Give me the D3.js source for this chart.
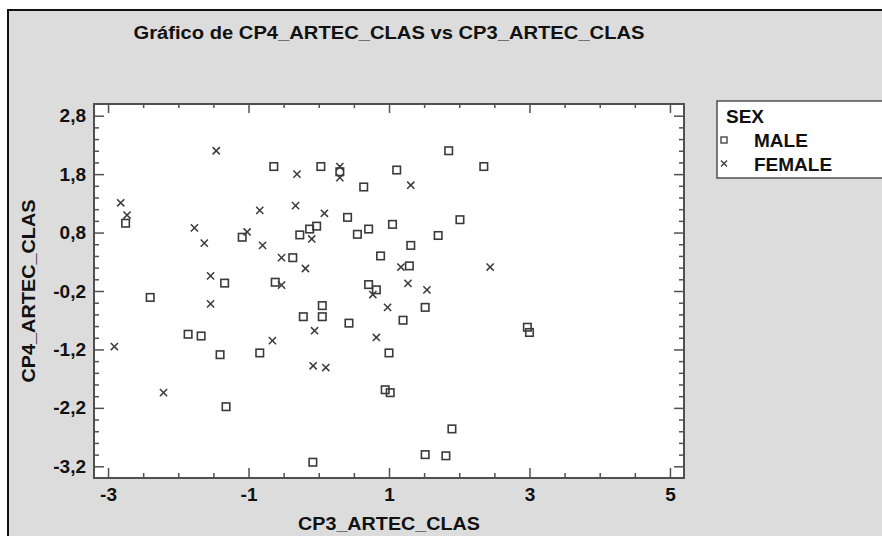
<!DOCTYPE html>
<html><head><meta charset="utf-8">
<script src="https://cdn.jsdelivr.net/npm/d3@7"></script>
<style>
html,body{margin:0;padding:0;background:#fff;overflow:hidden;}
svg{display:block;font-family:"Liberation Sans",Arial,sans-serif;}
</style></head>
<body><svg id="c" width="882" height="536"></svg>
<script>
// ---- data ----
const titleText = "Gráfico de CP4_ARTEC_CLAS vs CP3_ARTEC_CLAS";
const xLabel = "CP3_ARTEC_CLAS";
const yLabel = "CP4_ARTEC_CLAS";
const legendTitle = "SEX";
const groups = ["MALE", "FEMALE"];

const maleX = [-0.64, 0.03, 0.30, 0.64, 1.11, 1.85, 2.35, -2.75, 0.41, -1.09, -0.27, -0.13, -0.03, 0.55, 0.71, 1.05,
  0.88, -0.37, 2.01, 1.70, 1.31, 1.29, -1.34, -0.62, 0.71, 0.82, -2.40, 0.05, -0.22, 0.05, 0.43, 1.00,
  -1.86, -1.675, -1.405, -0.84, -1.32, 0.946, 1.017, -0.084, 1.515, 1.20, 2.97, 3.00, 1.896, 1.515, 1.81];
const maleY = [1.93, 1.93, 1.84, 1.58, 1.87, 2.20, 1.93, 0.96, 1.06, 0.72, 0.76, 0.86, 0.91, 0.77, 0.86, 0.94,
  0.40, 0.37, 1.02, 0.75, 0.58, 0.23, -0.065, -0.05, -0.09, -0.18, -0.31, -0.45, -0.64, -0.64, -0.75, -1.26,
  -0.94, -0.97, -1.29, -1.26, -2.18, -1.89, -1.94, -3.13, -0.48, -0.70, -0.82, -0.91, -2.56, -3.00, -3.02];

const femaleX = [-1.46, -0.31, 0.30, 0.30, -2.82, -2.73, -1.77, -1.63, -0.84, -0.33, 0.08, -1.02, -0.80, -0.10, -0.53,
  -0.19, -1.54, -0.53, 1.17, 2.44, 1.27, 1.54, 1.31, 0.77, -1.54, 0.98, -0.06, 0.82, -2.91, -0.66, -0.08, 0.10, -2.21];
const femaleY = [2.20, 1.80, 1.93, 1.74, 1.31, 1.10, 0.88, 0.62, 1.18, 1.26, 1.13, 0.81, 0.58, 0.69, 0.37,
  0.185, 0.06, -0.10, 0.21, 0.21, -0.07, -0.18, 1.61, -0.26, -0.42, -0.48, -0.88, -0.995, -1.15, -1.05, -1.48, -1.51, -1.94];

const xMajorTicks = [-3, -1, 1, 3, 5];
const xMinorTicks = [-2.5, -2, -1.5, -0.5, 0, 0.5, 1.5, 2, 2.5, 3.5, 4, 4.5];
const yMajorTicks = [2.8, 1.8, 0.8, -0.2, -1.2, -2.2, -3.2];
const yMinorTicks = [2.6, 2.4, 2.2, 2.0, 1.6, 1.4, 1.2, 1.0, 0.6, 0.4, 0.2, 0.0, -0.4, -0.6, -0.8, -1.0,
  -1.4, -1.6, -1.8, -2.0, -2.4, -2.6, -2.8, -3.0];

// ---- drawing ----
const svg = d3.select("#c");
const W = 882, H = 536;
const plot = {l: 94, t: 104, r: 684, b: 478};
const ink = "#3a3a3a", frameCol = "#505050";

svg.append("rect").attr("x", 0).attr("y", 0).attr("width", W).attr("height", H).attr("fill", "#fff");
svg.append("rect").attr("x", 8).attr("y", 10).attr("width", W - 8).attr("height", H - 10).attr("fill", "#dcdcdc");
svg.append("path").attr("d", `M8,${H}L8,10L${W},10`).attr("fill", "none").attr("stroke", "#111").attr("stroke-width", 2);

const x = d3.scaleLinear().domain([-3.2, 5.2]).range([plot.l, plot.r]);
const y = d3.scaleLinear().domain([-3.4, 3.0]).range([plot.b, plot.t]);

svg.append("rect").attr("x", plot.l).attr("y", plot.t)
  .attr("width", plot.r - plot.l).attr("height", plot.b - plot.t).attr("fill", "#fff");

const xFmt = d => String(d);
const yFmt = d => d.toFixed(1).replace(".", ",");

function addAxis(gen, tx, ty) {
  const g = svg.append("g").attr("transform", `translate(${tx},${ty})`).call(gen);
  g.select(".domain").remove();
  g.selectAll(".tick line").attr("stroke", frameCol).attr("stroke-width", 1.5);
  g.selectAll(".tick text").attr("fill", "#111").attr("font-size", 19).attr("font-weight", "bold")
    .attr("font-family", "'Liberation Sans',Arial,sans-serif");
  return g;
}
// bottom
addAxis(d3.axisBottom(x).tickValues(xMajorTicks).tickSize(-10).tickPadding(10).tickFormat(xFmt), 0, plot.b);
addAxis(d3.axisBottom(x).tickValues(xMinorTicks).tickSize(-5).tickFormat(""), 0, plot.b);
// top
addAxis(d3.axisTop(x).tickValues(xMajorTicks).tickSize(-9).tickFormat(""), 0, plot.t);
addAxis(d3.axisTop(x).tickValues(xMinorTicks).tickSize(-4).tickFormat(""), 0, plot.t);
// left
addAxis(d3.axisLeft(y).tickValues(yMajorTicks).tickSize(-10).tickPadding(8).tickFormat(yFmt), plot.l, 0);
addAxis(d3.axisLeft(y).tickValues(yMinorTicks).tickSize(-5).tickFormat(""), plot.l, 0);
// right
addAxis(d3.axisRight(y).tickValues(yMajorTicks).tickSize(-10).tickFormat(""), plot.r, 0);
addAxis(d3.axisRight(y).tickValues(yMinorTicks).tickSize(-5).tickFormat(""), plot.r, 0);

svg.append("rect").attr("x", plot.l).attr("y", plot.t)
  .attr("width", plot.r - plot.l).attr("height", plot.b - plot.t)
  .attr("fill", "none").attr("stroke", frameCol).attr("stroke-width", 2);

// points
const males = maleX.map((v, i) => ({x: v, y: maleY[i]}));
const females = femaleX.map((v, i) => ({x: v, y: femaleY[i]}));
const sq = 7.5;
svg.append("g").selectAll("rect").data(males).join("rect")
  .attr("x", d => x(d.x) - sq / 2).attr("y", d => y(d.y) - sq / 2)
  .attr("width", sq).attr("height", sq)
  .attr("fill", "none").attr("stroke", ink).attr("stroke-width", 1.6);
const xs = 3.6;
svg.append("g").selectAll("path").data(females).join("path")
  .attr("d", d => { const cx = x(d.x), cy = y(d.y);
    return `M${cx - xs},${cy - xs}L${cx + xs},${cy + xs}M${cx - xs},${cy + xs}L${cx + xs},${cy - xs}`; })
  .attr("fill", "none").attr("stroke", ink).attr("stroke-width", 1.5);

// texts
const cx = (plot.l + plot.r) / 2;
svg.append("text").attr("x", cx).attr("y", 39).attr("text-anchor", "middle")
  .attr("font-size", 18).attr("font-weight", "bold").attr("fill", "#111")
  .attr("textLength", 511).attr("lengthAdjust", "spacingAndGlyphs").text(titleText);
svg.append("text").attr("x", cx).attr("y", 530).attr("text-anchor", "middle")
  .attr("font-size", 18).attr("font-weight", "bold").attr("fill", "#111")
  .attr("textLength", 182).attr("lengthAdjust", "spacingAndGlyphs").text(xLabel);
svg.append("text").attr("transform", `translate(35,291) rotate(-90)`).attr("text-anchor", "middle")
  .attr("font-size", 18).attr("font-weight", "bold").attr("fill", "#111")
  .attr("textLength", 183).attr("lengthAdjust", "spacingAndGlyphs").text(yLabel);

// legend
const lg = svg.append("g");
lg.append("rect").attr("x", 717).attr("y", 101).attr("width", W - 717).attr("height", 77).attr("fill", "#fff");
lg.append("path").attr("d", `M${W},101L717,101L717,178L${W},178`)
  .attr("fill", "none").attr("stroke", frameCol).attr("stroke-width", 1.5);
lg.append("text").attr("x", 726).attr("y", 123).attr("font-size", 19).attr("font-weight", "bold")
  .attr("fill", "#111").text(legendTitle);
lg.selectAll("text.item").data(groups).join("text").attr("class", "item")
  .attr("x", 754).attr("y", (d, i) => 147 + i * 23.5)
  .attr("font-size", 19).attr("font-weight", "bold").attr("fill", "#111").text(d => d);
lg.append("rect").attr("x", 721).attr("y", 137).attr("width", 6).attr("height", 6)
  .attr("fill", "none").attr("stroke", ink).attr("stroke-width", 1.3);
lg.append("path").attr("d", "M721,160.5L727,166.5M721,166.5L727,160.5")
  .attr("fill", "none").attr("stroke", ink).attr("stroke-width", 1.3);
</script>
</body></html>
